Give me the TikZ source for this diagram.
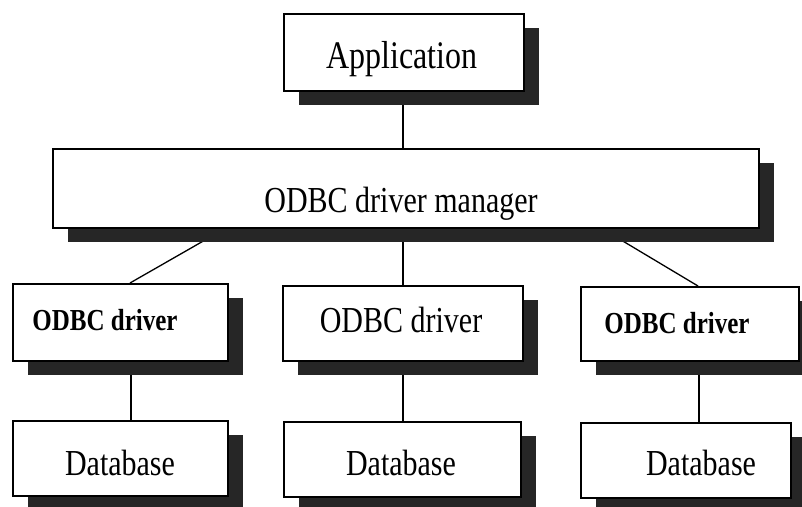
\documentclass[tikz,border=0pt]{standalone}
\usepackage{fontspec}
\setmainfont{Liberation Serif}
\usetikzlibrary{shadows,backgrounds}

\tikzset{
  box/.style={rectangle, draw=black, line width=1.6pt, fill=white, inner sep=0pt,
    anchor=north west,
    drop shadow={shadow xshift=15pt, shadow yshift=-14pt, fill=black!85, opacity=1}},
  conn/.style={draw=black, line width=1.3pt},
  lbl/.style={anchor=base, inner sep=0pt, font=\fontsize{30}{36}\selectfont},
  lblbig/.style={lbl, font=\fontsize{32}{38}\selectfont},
  lblb/.style={lbl, font=\fontsize{25}{30}\selectfont\bfseries},
}
\newcommand{\tall}[1]{\scalebox{1}[1.22]{#1}}

\begin{document}
\begin{tikzpicture}[x=1pt, y=-1pt]
  \useasboundingbox (0,0) rectangle (802,506);

  % boxes
  \node[box, minimum width=240pt, minimum height=77pt] (app)  at (283,13)  {};
  \node[box, minimum width=706pt, minimum height=79pt] (mgr)  at (52,148)  {};
  \node[box, minimum width=215pt, minimum height=77pt] (drv1) at (12,283)  {};
  \node[box, minimum width=240pt, minimum height=75pt] (drv2) at (282,285) {};
  \node[box, minimum width=218pt, minimum height=74pt] (drv3) at (580,286) {};
  \node[box, minimum width=215pt, minimum height=75pt] (db1)  at (12,420)  {};
  \node[box, minimum width=237pt, minimum height=75pt] (db2)  at (283,421) {};
  \node[box, minimum width=210pt, minimum height=75pt] (db3)  at (580,422) {};

  % labels
  \node[lblbig] (tapp)  at (402,68)  {\tall{Application}};
  \node[lbl]    (tmgr)  at (401,212) {\tall{ODBC driver manager}};
  \node[lblb]   (tdrv1) at (105,330) {\tall{ODBC driver}};
  \node[lbl]    (tdrv2) at (401,332) {\tall{ODBC driver}};
  \node[lblb]   (tdrv3) at (677,333) {\tall{ODBC driver}};
  \node[lbl]    (tdb1)  at (120,475) {\tall{Database}};
  \node[lbl]    (tdb2)  at (401,475) {\tall{Database}};
  \node[lbl]    (tdb3)  at (701,475) {\tall{Database}};

  % connectors behind the boxes
  \begin{pgfonlayer}{background}
    \fill[white] (0,0) rectangle (802,506);
    \draw[conn] ([xshift=120pt]app.south west) -- ([xshift=120pt]app.south west |- mgr.north);
    \draw[conn] ([xshift=173pt]mgr.south west) -- ([xshift=118pt]drv1.north west);
    \draw[conn] ([xshift=121pt]drv2.north west |- mgr.south) -- ([xshift=121pt]drv2.north west);
    \draw[conn] ([xshift=550pt]mgr.south west) -- ([xshift=118pt]drv3.north west);
    \draw[conn] ([xshift=119pt]drv1.south west) -- ([xshift=119pt]drv1.south west |- db1.north);
    \draw[conn] ([xshift=121pt]drv2.south west) -- ([xshift=121pt]drv2.south west |- db2.north);
    \draw[conn] ([xshift=119pt]drv3.south west) -- ([xshift=119pt]drv3.south west |- db3.north);
  \end{pgfonlayer}
\end{tikzpicture}
\end{document}
